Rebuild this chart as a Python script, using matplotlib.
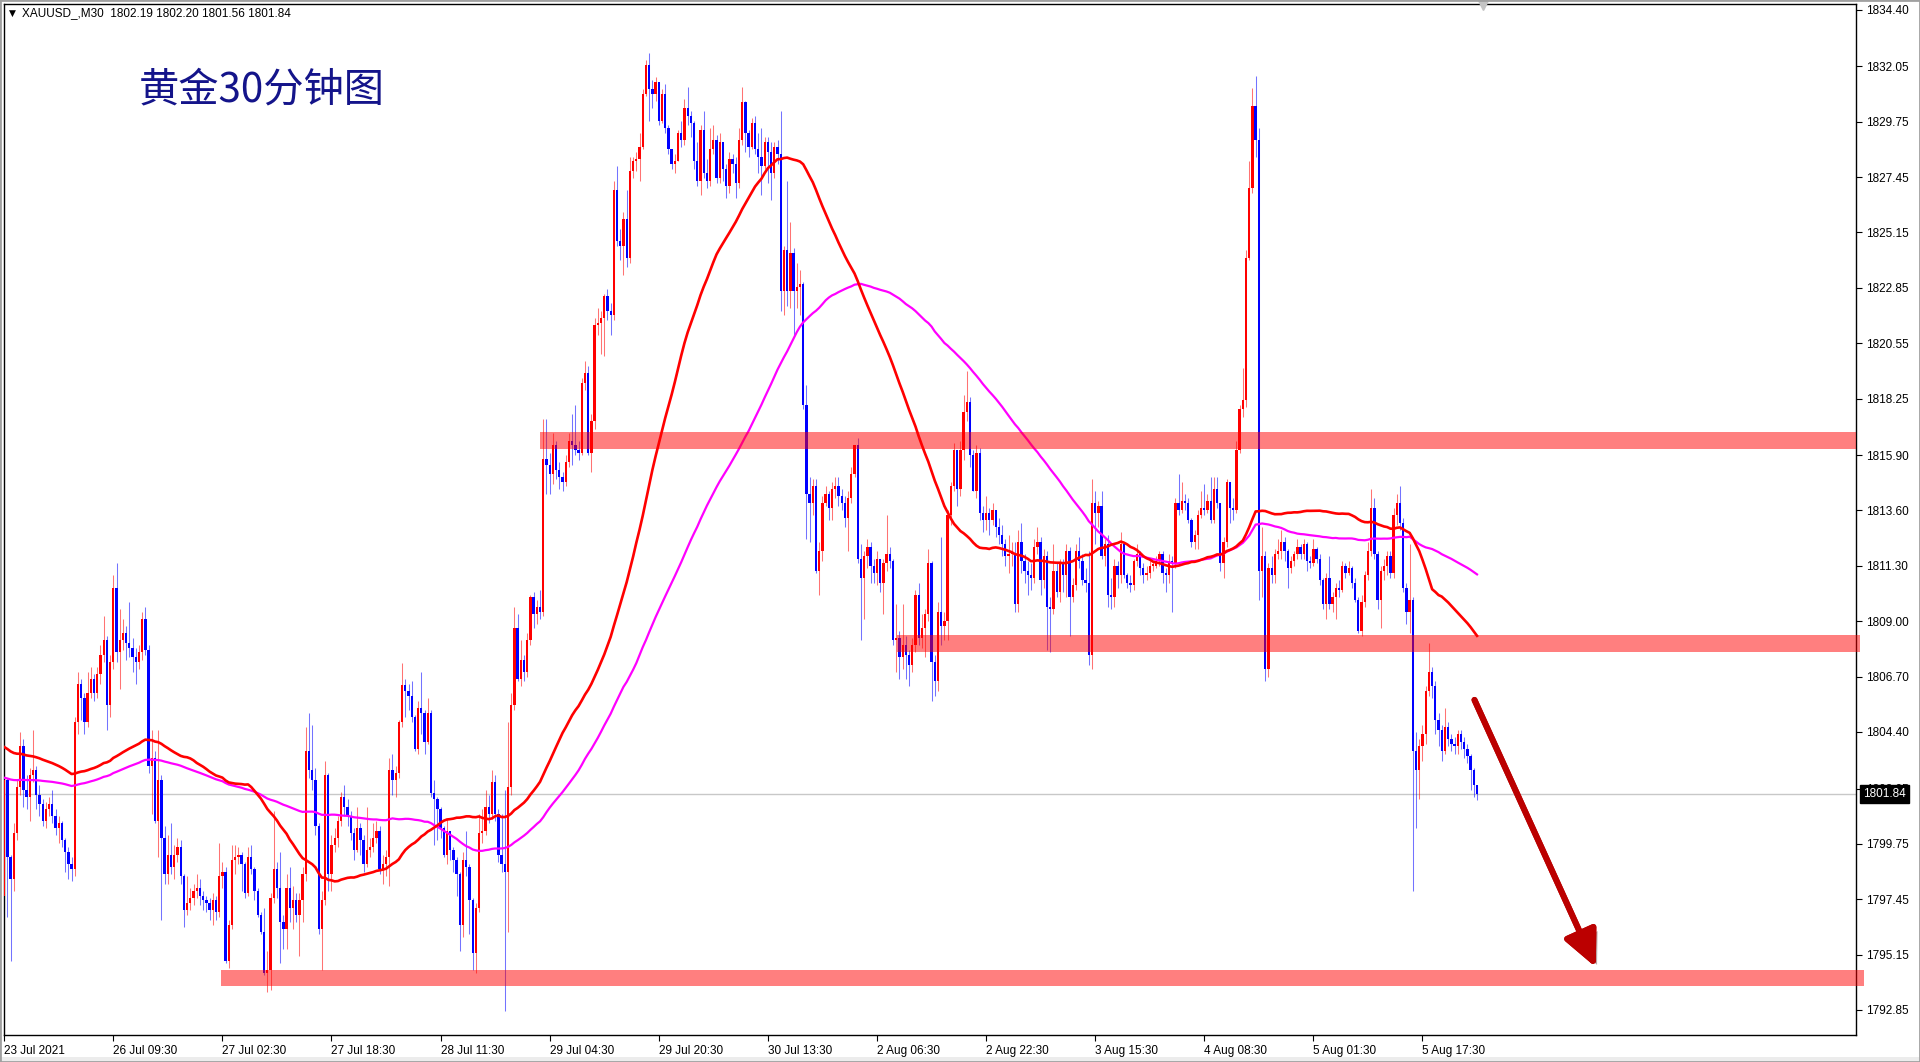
import numpy as np
import pandas as pd
import matplotlib
matplotlib.use("Agg")
import matplotlib.pyplot as plt
import matplotlib.patheffects as pe
from matplotlib.patches import Rectangle
from matplotlib.transforms import blended_transform_factory

plt.rcParams['font.family'] = ['Liberation Sans', 'Noto Sans CJK SC', 'DejaVu Sans']

# XAUUSD M30, one value per bar (open of bar n = close of bar n-1)
first_open = 1797.6
close_px = [
    1802.4, 1799.2, 1798.3, 1800.2, 1802.1, 1803.8, 1802.0, 1801.7, 1802.6, 1802.8,
    1801.8, 1801.4, 1800.7, 1801.2, 1801.4, 1800.9, 1800.4, 1800.6, 1799.9, 1799.4,
    1798.9, 1798.7, 1804.8, 1806.4, 1805.8, 1804.8, 1806.0, 1806.6, 1806.0, 1806.8,
    1807.6, 1808.2, 1805.5, 1807.3, 1810.4, 1807.7, 1808.2, 1808.5, 1808.1, 1807.9,
    1807.5, 1807.3, 1807.7, 1809.1, 1807.8, 1803.0, 1803.3, 1800.7, 1802.4, 1800.0,
    1798.5, 1799.3, 1798.8, 1799.3, 1799.6, 1798.4, 1797.0, 1797.3, 1797.5, 1797.8,
    1797.9, 1797.6, 1797.4, 1797.3, 1797.0, 1797.4, 1796.9, 1798.4, 1798.6, 1794.9,
    1796.4, 1799.1, 1799.2, 1799.3, 1798.9, 1797.7, 1799.2, 1798.7, 1797.8, 1796.8,
    1796.1, 1794.4, 1794.5, 1797.5, 1798.7, 1797.9, 1796.5, 1796.2, 1797.9, 1797.1,
    1797.4, 1796.8, 1797.4, 1798.5, 1803.6, 1802.8, 1802.4, 1800.5, 1796.2, 1797.4,
    1802.6, 1798.5, 1799.7, 1800.0, 1800.7, 1801.7, 1801.3, 1800.9, 1800.2, 1799.5,
    1800.4, 1799.9, 1798.9, 1799.5, 1799.6, 1800.0, 1800.3, 1798.7, 1798.9, 1799.2,
    1802.8, 1802.4, 1802.7, 1804.8, 1806.35, 1806.1, 1805.9, 1805.0, 1803.7, 1805.4,
    1805.2, 1804.0, 1805.2, 1801.85, 1801.6, 1801.2, 1800.4, 1799.3, 1800.3, 1799.5,
    1799.1, 1798.5, 1796.4, 1799.1, 1798.8, 1797.4, 1795.2, 1797.1, 1800.2, 1800.3,
    1801.3, 1801.0, 1802.3, 1801.0, 1799.3, 1798.9, 1798.6, 1802.1, 1805.5, 1808.7,
    1806.6, 1807.4, 1806.9, 1808.2, 1810.0, 1809.3, 1809.6, 1809.4, 1815.75, 1815.5,
    1815.1, 1816.3, 1815.3, 1815.0, 1814.8, 1815.6, 1816.5, 1816.3, 1816.1, 1816.0,
    1818.9, 1819.3, 1816.0, 1817.3, 1821.3, 1821.4, 1821.6, 1822.5, 1821.9, 1821.7,
    1826.9, 1824.8, 1824.6, 1825.7, 1824.1, 1827.7, 1828.1, 1828.2, 1828.7, 1830.9,
    1832.1, 1831.1, 1830.9, 1831.4, 1829.8, 1830.9, 1829.5, 1828.6, 1828.0, 1828.1,
    1829.3, 1829.0, 1830.3, 1830.0, 1829.7, 1828.1, 1827.3, 1829.4, 1827.6, 1827.3,
    1828.6, 1829.0, 1827.4, 1828.9, 1827.8, 1827.1, 1828.2, 1828.0, 1827.2, 1829.0,
    1830.55, 1829.3, 1828.7, 1829.7, 1828.6, 1828.3, 1827.9, 1828.9, 1828.5, 1827.6,
    1828.7, 1828.4, 1822.7, 1824.4, 1822.7, 1824.3, 1822.7, 1822.9, 1823.0, 1818.0,
    1814.3, 1813.9, 1814.6, 1811.1, 1811.9, 1813.9, 1814.3, 1813.7, 1814.5, 1814.6,
    1814.2, 1813.9, 1813.3, 1814.1, 1815.1, 1816.3, 1811.6, 1810.8, 1811.7, 1812.1,
    1811.3, 1811.0, 1811.6, 1810.6, 1811.4, 1811.8, 1811.5, 1808.2, 1808.3, 1807.5,
    1808.0, 1807.6, 1807.2, 1808.0, 1810.1, 1808.3, 1808.7, 1809.3, 1811.4, 1807.3,
    1806.5, 1809.4, 1808.8, 1809.0, 1813.4, 1814.6, 1816.1, 1814.5, 1816.1, 1817.7,
    1818.1, 1815.9, 1814.4, 1816.0, 1813.5, 1813.2, 1813.5, 1813.2, 1813.6, 1812.9,
    1812.6, 1812.2, 1811.7, 1811.8, 1811.8, 1809.7, 1812.3, 1811.5, 1811.1, 1810.9,
    1810.8, 1812.1, 1812.3, 1810.7, 1811.7, 1809.6, 1809.5, 1811.1, 1810.2, 1811.4,
    1810.9, 1811.9, 1810.0, 1810.5, 1811.9, 1811.5, 1810.7, 1810.6, 1807.6, 1813.9,
    1813.5, 1813.8, 1811.7, 1812.2, 1810.1, 1810.0, 1811.3, 1810.9, 1812.2, 1810.9,
    1810.6, 1810.5, 1811.5, 1811.8, 1811.2, 1810.9, 1811.0, 1811.3, 1811.3, 1811.5,
    1811.8, 1811.0, 1810.9, 1811.5, 1811.4, 1813.9, 1813.6, 1814.0, 1813.9, 1813.2,
    1812.3, 1812.6, 1813.4, 1813.7, 1813.6, 1814.0, 1813.2, 1814.5, 1813.9, 1811.4,
    1812.3, 1814.8, 1813.7, 1813.6, 1816.1, 1817.8, 1818.2, 1824.1, 1827.0, 1830.4,
    1829.0, 1811.1, 1811.7, 1807.0, 1811.2, 1810.9, 1811.8, 1811.9, 1812.3, 1811.9,
    1811.2, 1811.5, 1811.8, 1812.1, 1811.8, 1812.2, 1811.5, 1811.4, 1812.0, 1811.6,
    1810.7, 1809.7, 1810.8, 1809.7, 1810.0, 1810.4, 1810.3, 1811.3, 1811.0, 1811.2,
    1810.6, 1809.9, 1808.6, 1809.8, 1810.9, 1811.9, 1813.7, 1811.8, 1809.9, 1811.1,
    1811.3, 1811.7, 1811.0, 1813.4, 1813.9, 1813.1, 1810.4, 1809.4, 1809.9, 1803.6,
    1802.8, 1803.8, 1804.3, 1806.1, 1806.9, 1806.3, 1804.9, 1804.5, 1803.6, 1804.6,
    1804.1, 1803.9, 1803.8, 1804.3, 1804.0, 1803.7, 1803.4, 1802.8, 1802.19, 1801.84,
]
high_px = [
    1802.6, 1802.5, 1799.3, 1800.6, 1802.4, 1804.4, 1804.1, 1802.6, 1802.9, 1804.5,
    1803.0, 1802.2, 1801.6, 1801.5, 1801.7, 1802.0, 1801.2, 1800.9, 1800.7, 1800.0,
    1799.6, 1799.2, 1805.0, 1806.9, 1806.6, 1806.0, 1806.9, 1807.1, 1806.8, 1807.1,
    1808.0, 1809.2, 1808.4, 1807.6, 1810.9, 1811.4, 1809.5, 1809.1, 1808.8, 1809.8,
    1808.3, 1807.9, 1808.0, 1809.4, 1809.6, 1808.0, 1804.5, 1803.6, 1804.5, 1802.6,
    1800.5, 1800.1, 1800.6, 1799.7, 1800.0, 1799.9, 1798.5, 1798.4, 1797.9, 1798.1,
    1798.5, 1798.3, 1797.8, 1797.6, 1797.5, 1797.7, 1797.6, 1799.8, 1799.0, 1798.8,
    1796.6, 1799.7, 1799.7, 1799.6, 1799.4, 1799.0, 1799.6, 1799.7, 1798.8, 1797.9,
    1796.9, 1797.1, 1795.3, 1797.7, 1801.1, 1799.0, 1799.4, 1796.8, 1798.5, 1798.8,
    1798.0, 1797.7, 1797.7, 1798.8, 1804.6, 1805.2, 1804.7, 1802.9, 1800.6, 1797.8,
    1803.2, 1802.7, 1800.1, 1800.4, 1800.9, 1801.9, 1802.2, 1801.6, 1801.1, 1800.4,
    1801.3, 1800.6, 1800.1, 1801.3, 1800.0, 1800.6, 1800.7, 1800.5, 1799.3, 1799.5,
    1803.3, 1803.5, 1803.0, 1804.9, 1807.25, 1806.6, 1806.4, 1806.5, 1805.1, 1805.7,
    1806.9, 1805.3, 1805.8, 1805.3, 1802.4, 1801.7, 1801.3, 1800.5, 1800.8, 1800.1,
    1799.6, 1799.2, 1798.6, 1799.4, 1800.3, 1798.9, 1797.5, 1797.3, 1801.0, 1801.2,
    1802.0, 1801.8, 1802.8, 1802.6, 1801.2, 1801.0, 1802.0, 1804.8, 1806.0, 1809.6,
    1809.3, 1808.2, 1807.6, 1808.5, 1810.1, 1810.2, 1809.9, 1810.3, 1817.4, 1817.4,
    1816.0, 1816.8, 1816.5, 1815.6, 1815.2, 1815.9, 1816.8, 1817.6, 1818.0, 1816.5,
    1819.1, 1819.8, 1819.6, 1817.6, 1821.6, 1822.0, 1821.9, 1822.6, 1822.8, 1822.2,
    1827.3, 1827.9, 1825.3, 1826.0, 1826.9, 1828.3, 1828.3, 1828.5, 1829.3, 1831.1,
    1832.3, 1832.6, 1831.5, 1831.6, 1831.3, 1831.1, 1831.3, 1829.6, 1828.6, 1828.4,
    1829.4, 1829.8, 1830.7, 1831.2, 1830.2, 1829.8, 1828.9, 1829.6, 1830.2, 1828.2,
    1829.5, 1829.6, 1829.2, 1829.3, 1828.9, 1828.0, 1828.5, 1828.4, 1828.3, 1829.5,
    1831.2, 1830.6, 1829.4, 1829.9, 1830.0, 1829.3, 1829.5, 1829.1, 1829.1, 1828.9,
    1828.9, 1829.0, 1830.2, 1824.6, 1827.3, 1825.6, 1824.5, 1823.9, 1823.6, 1823.1,
    1818.8, 1815.0, 1814.9, 1814.9, 1812.3, 1814.2, 1814.6, 1814.4, 1814.8, 1815.0,
    1815.0, 1814.5, 1814.2, 1814.4, 1815.4, 1816.3, 1816.6, 1812.2, 1811.9, 1812.4,
    1812.3, 1811.6, 1811.9, 1811.3, 1811.6, 1813.4, 1812.1, 1811.6, 1809.7, 1808.6,
    1809.7, 1808.4, 1807.8, 1808.3, 1810.3, 1810.6, 1809.3, 1809.5, 1812.0, 1811.5,
    1807.6, 1809.8, 1812.5, 1809.4, 1813.6, 1814.8, 1816.4, 1815.6, 1816.5, 1818.4,
    1819.4, 1818.3, 1816.1, 1816.3, 1816.2, 1813.8, 1814.2, 1813.7, 1813.9, 1813.6,
    1813.3, 1813.0, 1812.4, 1812.6, 1812.3, 1812.3, 1812.8, 1813.1, 1811.8, 1811.5,
    1811.4, 1812.4, 1812.9, 1812.5, 1812.0, 1811.9, 1810.0, 1812.2, 1811.4, 1811.6,
    1811.6, 1812.2, 1812.1, 1810.8, 1812.2, 1812.5, 1811.8, 1811.2, 1811.9, 1814.9,
    1814.4, 1814.0, 1814.4, 1812.4, 1812.6, 1810.8, 1811.6, 1811.5, 1812.7, 1812.2,
    1811.0, 1810.9, 1811.6, 1812.2, 1811.9, 1811.4, 1811.3, 1811.5, 1811.5, 1811.7,
    1811.9, 1811.9, 1811.2, 1811.8, 1811.7, 1814.1, 1815.1, 1814.8, 1814.3, 1814.1,
    1813.3, 1812.8, 1813.6, 1814.4, 1814.7, 1814.3, 1815.0, 1815.0, 1815.0, 1813.9,
    1812.5, 1814.9, 1814.8, 1814.1, 1816.5, 1818.0, 1819.5, 1824.4, 1828.1, 1831.15,
    1831.66, 1829.5, 1812.9, 1811.9, 1811.4, 1811.7, 1812.0, 1812.4, 1812.8, 1812.5,
    1812.0, 1811.7, 1811.9, 1812.4, 1812.2, 1812.4, 1812.3, 1811.7, 1812.4, 1812.1,
    1811.8, 1810.8, 1811.0, 1811.7, 1810.2, 1810.6, 1810.7, 1811.5, 1811.4, 1811.5,
    1811.3, 1810.8, 1810.0, 1810.1, 1811.1, 1812.3, 1814.5, 1814.1, 1811.9, 1811.3,
    1811.6, 1811.9, 1811.9, 1813.7, 1814.3, 1814.6, 1813.3, 1810.6, 1812.2, 1810.0,
    1804.4, 1804.1, 1804.7, 1806.3, 1808.1, 1807.1, 1806.5, 1805.2, 1804.7, 1805.4,
    1804.8, 1804.3, 1804.2, 1804.5, 1804.5, 1804.2, 1803.9, 1803.5, 1802.9, 1802.2,
]
low_px = [
    1797.1, 1796.7, 1794.9, 1797.8, 1799.9, 1801.8, 1801.3, 1801.2, 1800.7, 1802.3,
    1801.2, 1800.9, 1800.5, 1800.4, 1800.9, 1800.6, 1800.1, 1799.8, 1799.6, 1798.6,
    1798.3, 1798.2, 1798.4, 1804.3, 1804.9, 1804.3, 1804.6, 1805.8, 1805.7, 1805.8,
    1806.4, 1807.3, 1804.5, 1805.0, 1807.0, 1807.3, 1806.2, 1807.8, 1807.4, 1807.5,
    1806.9, 1806.4, 1807.0, 1807.4, 1807.6, 1802.7, 1801.0, 1800.6, 1799.2, 1796.6,
    1798.1, 1798.1, 1798.5, 1798.3, 1799.0, 1798.1, 1796.3, 1796.8, 1797.0, 1797.2,
    1797.5, 1797.2, 1797.0, 1796.9, 1796.6, 1796.4, 1796.6, 1796.7, 1797.9, 1794.8,
    1794.6, 1796.2, 1798.5, 1798.9, 1797.8, 1797.5, 1797.6, 1798.5, 1797.4, 1796.7,
    1796.0, 1794.3, 1793.6, 1793.7, 1797.3, 1797.5, 1794.8, 1795.4, 1795.4, 1796.5,
    1796.2, 1796.5, 1795.1, 1796.5, 1798.2, 1802.5, 1802.0, 1800.1, 1796.0, 1794.5,
    1797.2, 1797.8, 1797.8, 1799.4, 1799.6, 1800.5, 1800.9, 1800.5, 1799.9, 1799.1,
    1799.4, 1799.3, 1798.6, 1798.8, 1799.2, 1799.4, 1799.8, 1798.5, 1798.1, 1798.4,
    1798.0, 1801.8, 1801.7, 1802.5, 1804.6, 1805.0, 1805.3, 1804.8, 1803.6, 1803.5,
    1804.3, 1803.5, 1803.9, 1801.7, 1799.7, 1799.9, 1800.0, 1799.2, 1798.9, 1799.1,
    1798.6, 1797.6, 1795.3, 1795.9, 1798.4, 1796.0, 1794.5, 1794.4, 1796.9, 1799.8,
    1800.1, 1800.6, 1800.8, 1800.7, 1799.0, 1798.6, 1792.8, 1796.1, 1801.8, 1805.3,
    1806.5, 1806.3, 1806.5, 1806.7, 1808.0, 1808.7, 1808.9, 1809.1, 1809.2, 1814.3,
    1814.3, 1814.7, 1814.9, 1814.5, 1814.4, 1814.6, 1815.4, 1815.5, 1815.9, 1815.7,
    1815.9, 1818.6, 1815.9, 1815.2, 1817.0, 1820.9, 1820.1, 1820.0, 1821.5, 1820.9,
    1821.5, 1824.6, 1824.0, 1823.4, 1823.7, 1823.9, 1827.4, 1827.7, 1827.3, 1828.6,
    1830.8, 1829.8, 1830.3, 1830.6, 1829.6, 1829.7, 1829.3, 1828.4, 1827.8, 1827.6,
    1828.1, 1828.7, 1828.8, 1829.6, 1829.1, 1827.8, 1827.1, 1826.7, 1827.4, 1827.0,
    1827.1, 1828.4, 1827.2, 1827.2, 1827.3, 1826.6, 1826.8, 1827.6, 1826.6, 1827.0,
    1828.8, 1828.5, 1828.3, 1828.6, 1828.4, 1827.6, 1826.7, 1827.8, 1827.2, 1826.5,
    1827.4, 1828.0, 1821.9, 1821.7, 1822.1, 1822.0, 1820.9, 1822.0, 1821.7, 1817.8,
    1812.4, 1812.3, 1813.4, 1811.0, 1810.1, 1811.5, 1813.8, 1813.2, 1813.2, 1814.1,
    1813.8, 1813.6, 1812.9, 1811.9, 1813.9, 1815.0, 1811.4, 1808.2, 1809.1, 1811.2,
    1810.6, 1810.6, 1810.5, 1810.2, 1809.3, 1811.1, 1811.2, 1808.0, 1806.9, 1806.6,
    1807.0, 1806.6, 1806.3, 1806.9, 1807.7, 1808.0, 1807.9, 1807.5, 1809.0, 1805.7,
    1805.9, 1806.1, 1808.0, 1808.2, 1808.2, 1813.0, 1814.4, 1813.8, 1814.2, 1815.7,
    1817.3, 1815.4, 1814.4, 1814.1, 1813.2, 1812.7, 1812.8, 1812.6, 1813.0, 1812.5,
    1812.2, 1811.7, 1811.3, 1811.0, 1811.3, 1809.4, 1809.4, 1811.0, 1810.6, 1810.1,
    1810.3, 1810.6, 1811.8, 1810.1, 1810.4, 1807.8, 1807.7, 1809.3, 1810.0, 1809.8,
    1810.2, 1810.0, 1808.4, 1809.8, 1810.3, 1811.2, 1810.5, 1810.2, 1807.2, 1807.0,
    1812.2, 1812.9, 1811.6, 1811.3, 1809.6, 1809.5, 1809.6, 1810.4, 1810.6, 1810.8,
    1810.4, 1810.2, 1810.3, 1811.3, 1810.9, 1810.6, 1810.7, 1810.8, 1811.1, 1811.2,
    1811.3, 1810.6, 1810.2, 1810.6, 1809.4, 1811.2, 1813.4, 1813.5, 1813.6, 1813.1,
    1812.1, 1812.0, 1812.0, 1813.3, 1813.4, 1813.5, 1813.1, 1813.1, 1813.7, 1811.1,
    1810.8, 1812.1, 1813.1, 1813.2, 1813.5, 1816.0, 1817.5, 1817.9, 1824.0, 1826.8,
    1828.3, 1809.9, 1810.0, 1806.5, 1806.7, 1810.6, 1810.6, 1811.6, 1811.6, 1811.5,
    1810.4, 1811.0, 1811.3, 1811.6, 1811.6, 1811.6, 1811.1, 1811.2, 1811.3, 1811.4,
    1810.5, 1809.5, 1809.1, 1809.5, 1809.4, 1809.1, 1810.0, 1810.2, 1810.8, 1810.9,
    1810.4, 1809.8, 1808.5, 1808.4, 1809.6, 1810.7, 1811.7, 1811.6, 1809.5, 1808.7,
    1810.7, 1810.9, 1810.8, 1810.8, 1813.0, 1812.8, 1810.2, 1808.9, 1808.5, 1797.8,
    1800.4, 1801.6, 1803.2, 1803.9, 1805.9, 1805.8, 1804.3, 1803.8, 1803.2, 1803.5,
    1803.8, 1803.6, 1803.5, 1803.5, 1803.7, 1803.3, 1803.1, 1802.0, 1801.7, 1801.56,
]

# moving averages: periods and their level before the first visible bar
ma_fast_period, ma_fast_start = 55, 1803.8
ma_slow_period, ma_slow_start = 100, 1802.5

# horizontal zones drawn on the chart (price level, first bar, last bar)
zone_level = [1816.5, 1808.08, 1794.17]
zone_from = [167.0, 278.2, 67.7]
zone_to = [577.1, 578.3, 579.5]

arrow_from = (458.2, 1805.73)
arrow_to = (496.0, 1794.63)

last_price = 1801.84
y_ticks = [1834.40, 1832.05, 1829.75, 1827.45, 1825.15, 1822.85, 1820.55, 1818.25,
           1815.90, 1813.60, 1811.30, 1809.00, 1806.70, 1804.40, 1802.05, 1799.75,
           1797.45, 1795.15, 1792.85]
x_tick_bars = [0, 34, 68, 102, 136, 170, 204, 238, 272, 306, 340, 374, 408, 442]
x_tick_labels = ['23 Jul 2021', '26 Jul 09:30', '27 Jul 02:30', '27 Jul 18:30',
                 '28 Jul 11:30', '29 Jul 04:30', '29 Jul 20:30', '30 Jul 13:30',
                 '2 Aug 06:30', '2 Aug 22:30', '3 Aug 15:30', '4 Aug 08:30',
                 '5 Aug 01:30', '5 Aug 17:30']


def seeded_sma(values, n, start):
    padded = np.concatenate([np.full(n - 1, start), values])
    return pd.Series(padded).rolling(n).mean().to_numpy()[n - 1:]


c = np.array(close_px)
o = np.concatenate([[first_open], c[:-1]])
h = np.maximum(np.array(high_px), np.maximum(o, c))
l = np.minimum(np.array(low_px), np.minimum(o, c))
x = np.arange(len(c))
up = c >= o
dn = ~up

W, H = 1920, 1062
fig = plt.figure(figsize=(W / 100, H / 100), dpi=100)
ax = fig.add_axes([4 / W, 27 / H, 1852 / W, 1031 / H])

ax.axhline(last_price, color='#c8c8c8', lw=1, zorder=1)

ax.vlines(x[up], l[up], h[up], color='#ff0000', lw=0.75, alpha=0.55, zorder=2)
ax.vlines(x[dn], l[dn], h[dn], color='#0000ff', lw=0.75, alpha=0.55, zorder=2)
body = c - o
body = np.where(np.abs(body) < 0.06, np.where(up, 0.06, -0.06), body)
ax.bar(x[up], body[up], bottom=o[up], width=0.72, color='#ff0000', lw=0,
       zorder=3, antialiased=False)
ax.bar(x[dn], body[dn], bottom=o[dn], width=0.72, color='#0000ff', lw=0,
       zorder=3, antialiased=False)

ax.plot(x, seeded_sma(c, ma_slow_period, ma_slow_start), color='#ff00ff', lw=1.6, zorder=4)
ax.plot(x, seeded_sma(c, ma_fast_period, ma_fast_start), color='#ff0000', lw=1.9, zorder=4)

for lvl, x0, x1 in zip(zone_level, zone_from, zone_to):
    ax.add_patch(Rectangle((x0, lvl - 0.34), x1 - x0, 0.68, facecolor='#ff0000',
                           alpha=0.5, lw=0, zorder=5, clip_on=False))

arr = ax.annotate('', xy=arrow_to, xytext=arrow_from,
                  arrowprops=dict(arrowstyle='-|>,head_length=0.55,head_width=0.26',
                                  color='#bb0000', lw=4.3, mutation_scale=40,
                                  shrinkA=0, shrinkB=0), zorder=6)
arr.arrow_patch.set_path_effects([pe.withSimplePatchShadow(offset=(3, -3), alpha=0.35),
                                  pe.Normal()])

ax.set_xlim(-0.06, 577.1)
ax.set_ylim(1791.81, 1834.64)

ax.yaxis.tick_right()
ax.set_yticks(y_ticks)
ax.set_yticklabels([f'{v:.2f}' for v in y_ticks])
ax.tick_params(axis='y', direction='out', length=4, width=0.8, pad=3, labelsize=8.5)
ax.set_xticks(x_tick_bars)
ax.set_xticklabels(x_tick_labels, ha='left')
ax.tick_params(axis='x', direction='out', length=4, width=0.8, pad=3, labelsize=8.5)
for s in ax.spines.values():
    s.set_color('black')
    s.set_linewidth(1)

trans = blended_transform_factory(ax.transAxes, ax.transData)
ax.annotate(f'{last_price:.2f}', xy=(1, last_price), xycoords=trans,
            xytext=(7, 0), textcoords='offset pixels', va='center', ha='left',
            color='white', fontsize=8.5, annotation_clip=False, zorder=10,
            bbox=dict(boxstyle='square,pad=0.25', fc='black', ec='black'))

ax.plot([461], [1834.64], marker='v', color='#c4c4c4', ms=8, clip_on=False, zorder=6)

fig.text(9 / W, 1 - 13 / H, '\u25bc', fontsize=6.5, va='center', ha='left',
         family=['DejaVu Sans'])
fig.text(22 / W, 1 - 13 / H, 'XAUUSD_,M30  1802.19 1802.20 1801.56 1801.84',
         fontsize=8.5, va='center', ha='left')
fig.text(139 / W, 1 - 90 / H, '黄金30分钟图', fontsize=29, color='#14148a',
         fontweight='light', va='center', ha='left',
         family=['Noto Sans CJK SC', 'DejaVu Sans'])

fig.patches.append(Rectangle((0, 0), 1, 5 / H, transform=fig.transFigure,
                             facecolor='#ececec', edgecolor='none'))
fig.patches.append(Rectangle((0, 0), 1, 1, transform=fig.transFigure, fill=False,
                             edgecolor='#a0a0a0', lw=2))

fig.savefig('out.png', dpi=100)
